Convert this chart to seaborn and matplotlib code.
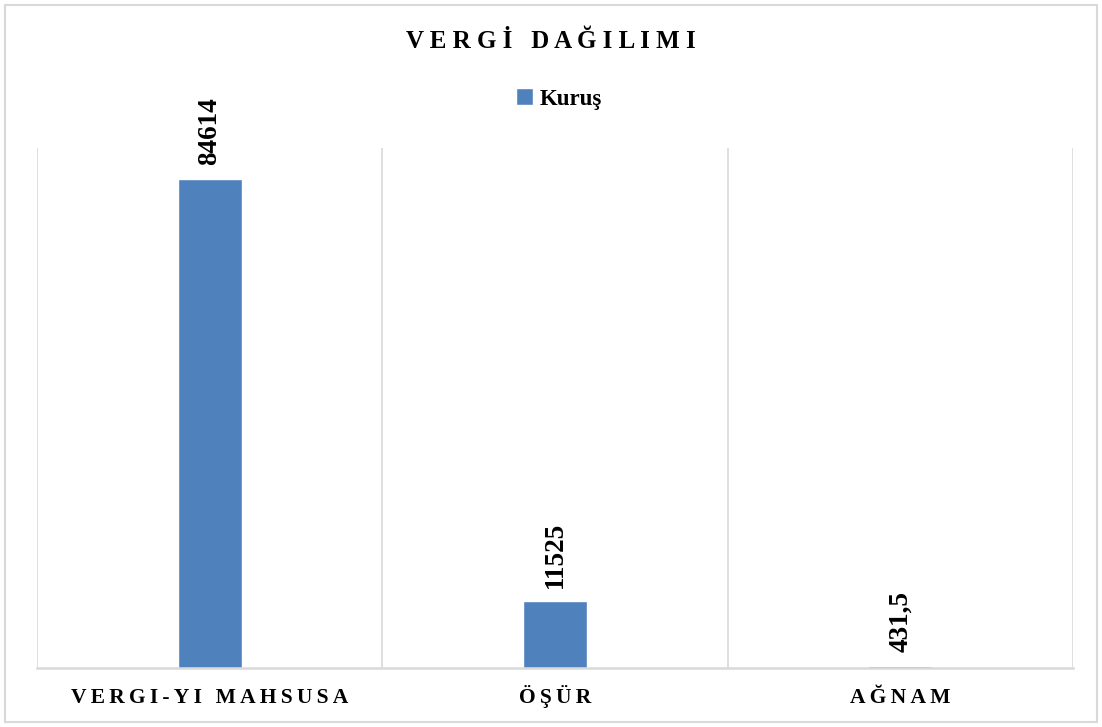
import matplotlib
matplotlib.use("Agg")
import matplotlib.pyplot as plt
import seaborn as sns
import pandas as pd
from matplotlib.patches import Patch, Rectangle

categories = ["VERGI-YI MAHSUSA", "ÖŞÜR", "AĞNAM"]
values = [84614, 11525, 431.5]
value_labels = ["84614", "11525", "431,5"]
series_name = "Kuruş"
title = "VERGİ DAĞILIMI"

BAR_COLOR = "#4f81bd"
GRID_COLOR = "#d9d9d9"
SERIF = ["Liberation Serif", "DejaVu Serif"]


def spaced(s, sep=" ", word_sep="   "):
    return word_sep.join(sep.join(list(w)) for w in s.split(" "))


sns.set_theme(style="white")
plt.rcParams["font.family"] = SERIF
plt.rcParams["text.color"] = "black"
plt.rcParams["xtick.color"] = "black"

df = pd.DataFrame({"cat": categories, "val": values})

fig = plt.figure(figsize=(11.02, 7.27), dpi=100)
ax = fig.add_axes([37 / 1102, 59 / 727, (1073 - 37) / 1102, (668 - 148) / 727])

sns.barplot(data=df, x="cat", y="val", color=BAR_COLOR, width=0.185,
            saturation=1, ax=ax)

ax.set_ylim(0, 90000)
ax.set_xlim(-0.5, 2.5)
ax.set_xlabel("")
ax.set_ylabel("")
ax.set_yticks([])
ax.set_xticks(range(len(categories)))
TS = "\u2009"
ax.set_xticklabels([spaced(c, sep=TS, word_sep=TS + " " + TS) for c in categories],
                   fontsize=15.5, fontweight="bold", family=SERIF, color="black")
for t in ax.get_xticklabels():
    t.set_va("baseline")
ax.tick_params(axis="x", length=0, pad=25)

for b in [-0.5, 0.5, 1.5, 2.5]:
    ax.axvline(b, color=GRID_COLOR, lw=1.2, zorder=0)

for s in ["top", "right", "left"]:
    ax.spines[s].set_visible(False)
ax.spines["bottom"].set_color(GRID_COLOR)
ax.spines["bottom"].set_linewidth(1.8)

ax.bar_label(ax.containers[0], labels=value_labels, rotation=90, padding=10,
             fontsize=19.5, fontweight="bold", family=SERIF, color="black")

fig.text(0.5, 1 - 42 / 727, spaced(title), ha="center", va="center",
         fontsize=18, fontweight="bold", family=SERIF, color="black")

leg = fig.legend(handles=[Patch(facecolor=BAR_COLOR, label=series_name)],
                 loc="center", bbox_to_anchor=(0.507, 1 - 99 / 727), frameon=False,
                 prop={"family": SERIF, "weight": "bold", "size": 16.5},
                 handlelength=0.75, handleheight=0.75, handletextpad=0.3)
for t in leg.get_texts():
    t.set_color("black")

fig.patches.append(Rectangle((5 / 1102, 5 / 727), 1092 / 1102, 717 / 727,
                             transform=fig.transFigure, fill=False,
                             edgecolor=GRID_COLOR, lw=1.5))

fig.savefig("out.png", dpi=100, facecolor="white")
